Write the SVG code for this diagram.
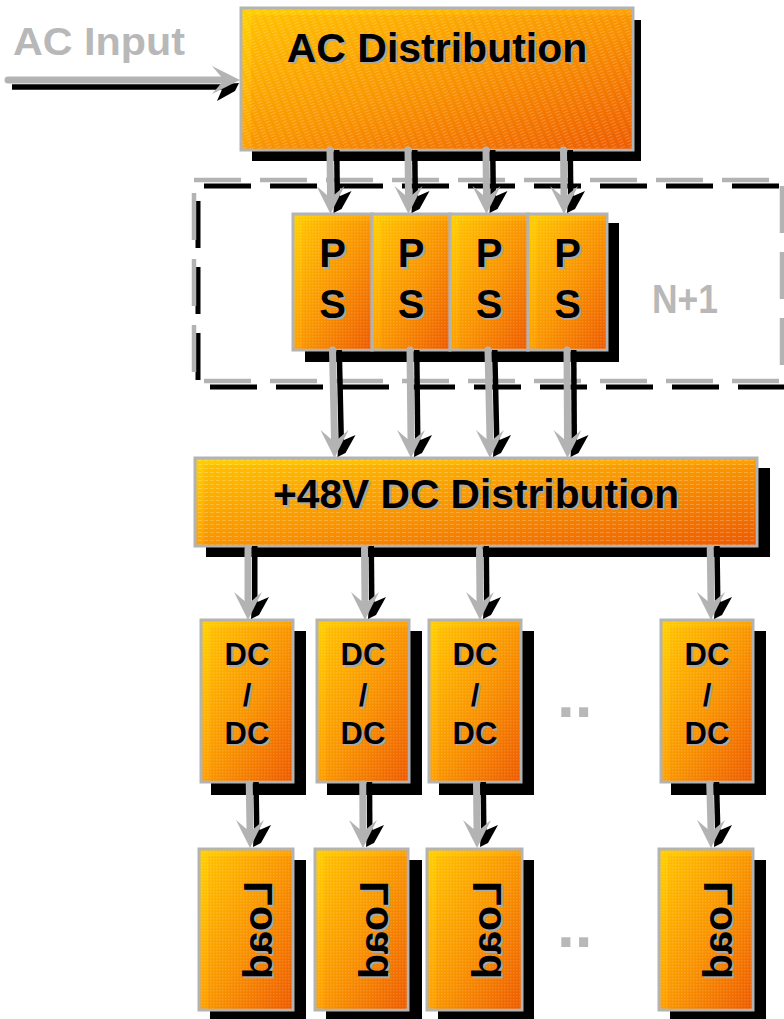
<svg xmlns="http://www.w3.org/2000/svg" xmlns:xlink="http://www.w3.org/1999/xlink" width="784" height="1019" viewBox="0 0 784 1019">
<defs>
<linearGradient id="gA" x1="0" y1="0" x2="1" y2="1">
<stop offset="0" stop-color="#FFD000"/>
<stop offset="0.5" stop-color="#FFA000"/>
<stop offset="1" stop-color="#FF6600"/>
</linearGradient>
<linearGradient id="gB" x1="0" y1="0" x2="1" y2="1">
<stop offset="0" stop-color="#FFC000"/>
<stop offset="0.5" stop-color="#F99400"/>
<stop offset="1" stop-color="#EE5C00"/>
</linearGradient>
<pattern id="pDiag" width="8" height="3" patternUnits="userSpaceOnUse" patternTransform="rotate(-22)">
<line x1="0" y1="0.5" x2="5" y2="0.5" stroke="#FFFFFF" stroke-opacity="0.22" stroke-width="1"/>
</pattern>
<pattern id="pHor" width="6" height="4" patternUnits="userSpaceOnUse">
<line x1="0" y1="0.5" x2="4" y2="0.5" stroke="#FFFFFF" stroke-opacity="0.22" stroke-width="1"/>
</pattern>
<pattern id="pDot" width="3" height="3" patternUnits="userSpaceOnUse">
<rect x="0" y="0" width="1.5" height="1.5" fill="#FFFFFF" fill-opacity="0.14"/>
</pattern>
<polygon id="headG" points="-14,-28 -3.5,-19 3.5,-19 14,-28 0,0" fill="#B3B3B3"/>
<polygon id="headB" points="4,-18 3,-1 11,-5 21,-23 9.5,-18" fill="#000000"/>
<style>
.shadow{fill:#000000}
.box{fill:url(#gA);stroke:#B3B3B3;stroke-width:3}
.inner{fill:url(#gB)}
.t{font-family:"Liberation Sans",Arial,Helvetica,sans-serif;font-weight:bold}
.ts{fill:#A8A8A8}
.tb{fill:#000000}
.gs{stroke:#B3B3B3;stroke-width:7;stroke-linecap:round;fill:none}
.bs{stroke:#000000;stroke-width:5.5;fill:none}
.lbl{fill:#B8B8B8}
</style>
</defs>
<rect width="784" height="1019" fill="#FFFFFF"/>

<g id="redundancy-frame" fill="none">
<rect x="198" y="186" width="592" height="201" stroke="#000000" stroke-width="5" stroke-dasharray="47 19" stroke-dashoffset="-6"/>
<rect x="194" y="180" width="588" height="201" stroke="#B3B3B3" stroke-width="4.5" stroke-dasharray="47 19"/>
</g>

<g id="ac-input-label">
<text class="t lbl" x="13" y="55" font-size="39" textLength="172" lengthAdjust="spacingAndGlyphs">AC Input</text>
</g>

<g id="ac-distribution">
<rect class="shadow" x="252" y="20" width="389" height="141"/>
<rect class="box" x="241" y="8" width="392" height="142"/>
<rect class="inner" x="251" y="15" width="380.5" height="133.5"/>
<rect fill="url(#pDiag)" x="242.5" y="9.5" width="389" height="139"/>
<text class="t ts" x="439" y="64" font-size="41" text-anchor="middle">AC Distribution</text>
<text class="t tb" x="437" y="62" font-size="41" text-anchor="middle">AC Distribution</text>
</g>

<g id="ps-shadow">
<rect class="shadow" x="305" y="223" width="314" height="139"/>
</g>
<g id="ps1">
<rect class="box" x="293" y="214" width="79" height="136"/>
<rect class="inner" x="302" y="221" width="68.5" height="127.5"/>
<rect fill="url(#pDot)" x="294.5" y="215.5" width="76" height="133"/>
<text class="t ts" x="334.5" y="269" font-size="40" text-anchor="middle">P</text>
<text class="t tb" x="332.5" y="267" font-size="40" text-anchor="middle">P</text>
<text class="t ts" x="334.5" y="320" font-size="40" text-anchor="middle">S</text>
<text class="t tb" x="332.5" y="318" font-size="40" text-anchor="middle">S</text>
</g>
<g id="ps2">
<rect class="box" x="372" y="214" width="78" height="136"/>
<rect class="inner" x="381" y="221" width="67.5" height="127.5"/>
<rect fill="url(#pDot)" x="373.5" y="215.5" width="75" height="133"/>
<text class="t ts" x="413" y="269" font-size="40" text-anchor="middle">P</text>
<text class="t tb" x="411" y="267" font-size="40" text-anchor="middle">P</text>
<text class="t ts" x="413" y="320" font-size="40" text-anchor="middle">S</text>
<text class="t tb" x="411" y="318" font-size="40" text-anchor="middle">S</text>
</g>
<g id="ps3">
<rect class="box" x="450" y="214" width="78" height="136"/>
<rect class="inner" x="459" y="221" width="67.5" height="127.5"/>
<rect fill="url(#pDot)" x="451.5" y="215.5" width="75" height="133"/>
<text class="t ts" x="491" y="269" font-size="40" text-anchor="middle">P</text>
<text class="t tb" x="489" y="267" font-size="40" text-anchor="middle">P</text>
<text class="t ts" x="491" y="320" font-size="40" text-anchor="middle">S</text>
<text class="t tb" x="489" y="318" font-size="40" text-anchor="middle">S</text>
</g>
<g id="ps4">
<rect class="box" x="528" y="214" width="79" height="136"/>
<rect class="inner" x="537" y="221" width="68.5" height="127.5"/>
<rect fill="url(#pDot)" x="529.5" y="215.5" width="76" height="133"/>
<text class="t ts" x="569.5" y="269" font-size="40" text-anchor="middle">P</text>
<text class="t tb" x="567.5" y="267" font-size="40" text-anchor="middle">P</text>
<text class="t ts" x="569.5" y="320" font-size="40" text-anchor="middle">S</text>
<text class="t tb" x="567.5" y="318" font-size="40" text-anchor="middle">S</text>
</g>

<g id="n-plus-1-label">
<text class="t lbl" x="652" y="313" font-size="41" textLength="66" lengthAdjust="spacingAndGlyphs">N+1</text>
</g>

<g id="dc-distribution">
<rect class="shadow" x="206" y="468" width="564" height="89"/>
<rect class="box" x="195" y="458" width="562" height="88"/>
<rect class="inner" x="204" y="465" width="551.5" height="79.5"/>
<rect fill="url(#pHor)" x="196.5" y="459.5" width="559" height="85"/>
<text class="t ts" x="478" y="510" font-size="40" text-anchor="middle" textLength="406" lengthAdjust="spacingAndGlyphs">+48V DC Distribution</text>
<text class="t tb" x="476" y="508" font-size="40" text-anchor="middle" textLength="406" lengthAdjust="spacingAndGlyphs">+48V DC Distribution</text>
</g>

<g id="dcdc1">
<rect class="shadow" x="211" y="631" width="95" height="164"/>
<rect class="box" x="201" y="620" width="92" height="162"/>
<rect class="inner" x="210" y="627" width="81.5" height="153.5"/>
<rect fill="url(#pDot)" x="202.5" y="621.5" width="89" height="159"/>
<text class="t ts" x="249" y="667" font-size="31" text-anchor="middle">DC</text>
<text class="t tb" x="247" y="665" font-size="31" text-anchor="middle">DC</text>
<text class="t ts" x="249" y="708" font-size="31" text-anchor="middle">/</text>
<text class="t tb" x="247" y="706" font-size="31" text-anchor="middle">/</text>
<text class="t ts" x="249" y="746" font-size="31" text-anchor="middle">DC</text>
<text class="t tb" x="247" y="744" font-size="31" text-anchor="middle">DC</text>
</g>
<g id="dcdc2">
<rect class="shadow" x="327" y="631" width="95" height="164"/>
<rect class="box" x="317" y="620" width="92" height="162"/>
<rect class="inner" x="326" y="627" width="81.5" height="153.5"/>
<rect fill="url(#pDot)" x="318.5" y="621.5" width="89" height="159"/>
<text class="t ts" x="365" y="667" font-size="31" text-anchor="middle">DC</text>
<text class="t tb" x="363" y="665" font-size="31" text-anchor="middle">DC</text>
<text class="t ts" x="365" y="708" font-size="31" text-anchor="middle">/</text>
<text class="t tb" x="363" y="706" font-size="31" text-anchor="middle">/</text>
<text class="t ts" x="365" y="746" font-size="31" text-anchor="middle">DC</text>
<text class="t tb" x="363" y="744" font-size="31" text-anchor="middle">DC</text>
</g>
<g id="dcdc3">
<rect class="shadow" x="439" y="631" width="95" height="164"/>
<rect class="box" x="429" y="620" width="92" height="162"/>
<rect class="inner" x="438" y="627" width="81.5" height="153.5"/>
<rect fill="url(#pDot)" x="430.5" y="621.5" width="89" height="159"/>
<text class="t ts" x="477" y="667" font-size="31" text-anchor="middle">DC</text>
<text class="t tb" x="475" y="665" font-size="31" text-anchor="middle">DC</text>
<text class="t ts" x="477" y="708" font-size="31" text-anchor="middle">/</text>
<text class="t tb" x="475" y="706" font-size="31" text-anchor="middle">/</text>
<text class="t ts" x="477" y="746" font-size="31" text-anchor="middle">DC</text>
<text class="t tb" x="475" y="744" font-size="31" text-anchor="middle">DC</text>
</g>
<g id="dcdc4">
<rect class="shadow" x="671" y="631" width="95" height="164"/>
<rect class="box" x="661" y="620" width="92" height="162"/>
<rect class="inner" x="670" y="627" width="81.5" height="153.5"/>
<rect fill="url(#pDot)" x="662.5" y="621.5" width="89" height="159"/>
<text class="t ts" x="709" y="667" font-size="31" text-anchor="middle">DC</text>
<text class="t tb" x="707" y="665" font-size="31" text-anchor="middle">DC</text>
<text class="t ts" x="709" y="708" font-size="31" text-anchor="middle">/</text>
<text class="t tb" x="707" y="706" font-size="31" text-anchor="middle">/</text>
<text class="t ts" x="709" y="746" font-size="31" text-anchor="middle">DC</text>
<text class="t tb" x="707" y="744" font-size="31" text-anchor="middle">DC</text>
</g>

<g id="load1">
<rect class="shadow" x="210" y="860" width="96" height="164"/>
<rect class="box" x="199" y="849" width="94" height="161"/>
<rect class="inner" x="208" y="856" width="83.5" height="152.5"/>
<rect fill="url(#pDot)" x="200.5" y="850.5" width="91" height="158"/>
<text class="t ts" transform="matrix(0 1 1 0 274 932)" font-size="41" text-anchor="middle">Load</text>
<text class="t tb" transform="matrix(0 1 1 0 272 930)" font-size="41" text-anchor="middle">Load</text>
</g>
<g id="load2">
<rect class="shadow" x="326" y="860" width="96" height="164"/>
<rect class="box" x="315" y="849" width="93" height="161"/>
<rect class="inner" x="324" y="856" width="82.5" height="152.5"/>
<rect fill="url(#pDot)" x="316.5" y="850.5" width="90" height="158"/>
<text class="t ts" transform="matrix(0 1 1 0 389.5 932)" font-size="41" text-anchor="middle">Load</text>
<text class="t tb" transform="matrix(0 1 1 0 387.5 930)" font-size="41" text-anchor="middle">Load</text>
</g>
<g id="load3">
<rect class="shadow" x="438" y="860" width="96" height="164"/>
<rect class="box" x="427" y="849" width="95" height="161"/>
<rect class="inner" x="436" y="856" width="84.5" height="152.5"/>
<rect fill="url(#pDot)" x="428.5" y="850.5" width="92" height="158"/>
<text class="t ts" transform="matrix(0 1 1 0 502.5 932)" font-size="41" text-anchor="middle">Load</text>
<text class="t tb" transform="matrix(0 1 1 0 500.5 930)" font-size="41" text-anchor="middle">Load</text>
</g>
<g id="load4">
<rect class="shadow" x="670" y="860" width="96" height="164"/>
<rect class="box" x="659" y="849" width="94" height="161"/>
<rect class="inner" x="668" y="856" width="83.5" height="152.5"/>
<rect fill="url(#pDot)" x="660.5" y="850.5" width="91" height="158"/>
<text class="t ts" transform="matrix(0 1 1 0 734 932)" font-size="41" text-anchor="middle">Load</text>
<text class="t tb" transform="matrix(0 1 1 0 732 930)" font-size="41" text-anchor="middle">Load</text>
</g>

<g id="ellipsis-dcdc">
<text class="t lbl" x="557" y="717" font-size="64">..</text>
</g>
<g id="ellipsis-load">
<text class="t lbl" x="557" y="947" font-size="64">..</text>
</g>

<g id="connectors">
<line class="bs" x1="12" y1="87" x2="223" y2="87"/>
<use xlink:href="#headB" href="#headB" transform="matrix(0 1 1 0 240 80)"/>

<line class="bs" x1="336.75" y1="150" x2="337.25" y2="196"/>
<line class="bs" x1="414.75" y1="150" x2="415.25" y2="196"/>
<line class="bs" x1="492.75" y1="150" x2="493.25" y2="196"/>
<line class="bs" x1="570.25" y1="150" x2="570.75" y2="196"/>
<use xlink:href="#headB" href="#headB" transform="translate(330.5 214)"/>
<use xlink:href="#headB" href="#headB" transform="translate(408.5 214)"/>
<use xlink:href="#headB" href="#headB" transform="translate(486.5 214)"/>
<use xlink:href="#headB" href="#headB" transform="translate(564 214)"/>

<line class="bs" x1="339.25" y1="350" x2="341.25" y2="440"/>
<line class="bs" x1="416.75" y1="350" x2="417.75" y2="440"/>
<line class="bs" x1="494.75" y1="350" x2="496.75" y2="440"/>
<line class="bs" x1="573.75" y1="350" x2="574.25" y2="440"/>
<use xlink:href="#headB" href="#headB" transform="translate(334.5 458)"/>
<use xlink:href="#headB" href="#headB" transform="translate(411 458)"/>
<use xlink:href="#headB" href="#headB" transform="translate(490 458)"/>
<use xlink:href="#headB" href="#headB" transform="translate(567.5 458)"/>

<line class="bs" x1="254.75" y1="546" x2="254.75" y2="602"/>
<line class="bs" x1="371.25" y1="546" x2="371.75" y2="602"/>
<line class="bs" x1="486.25" y1="546" x2="486.75" y2="602"/>
<line class="bs" x1="717" y1="546" x2="717.75" y2="602"/>
<use xlink:href="#headB" href="#headB" transform="translate(248 620)"/>
<use xlink:href="#headB" href="#headB" transform="translate(365 620)"/>
<use xlink:href="#headB" href="#headB" transform="translate(480 620)"/>
<use xlink:href="#headB" href="#headB" transform="translate(711 620)"/>

<line class="bs" x1="256" y1="782" x2="256.75" y2="830"/>
<line class="bs" x1="369.5" y1="782" x2="369.75" y2="830"/>
<line class="bs" x1="483.25" y1="782" x2="483.75" y2="830"/>
<line class="bs" x1="716.5" y1="782" x2="717.75" y2="830"/>
<use xlink:href="#headB" href="#headB" transform="translate(250 848)"/>
<use xlink:href="#headB" href="#headB" transform="translate(363 848)"/>
<use xlink:href="#headB" href="#headB" transform="translate(477 848)"/>
<use xlink:href="#headB" href="#headB" transform="translate(711 848)"/>

<line class="gs" x1="8" y1="80" x2="221" y2="80" stroke-width="5"/>
<use xlink:href="#headG" href="#headG" transform="matrix(0 1 1 0 240 80)"/>

<line class="gs" x1="330" y1="150" x2="330.5" y2="195"/>
<line class="gs" x1="408" y1="150" x2="408.5" y2="195"/>
<line class="gs" x1="486" y1="150" x2="486.5" y2="195"/>
<line class="gs" x1="563.5" y1="150" x2="564" y2="195"/>
<use xlink:href="#headG" href="#headG" transform="translate(330.5 214)"/>
<use xlink:href="#headG" href="#headG" transform="translate(408.5 214)"/>
<use xlink:href="#headG" href="#headG" transform="translate(486.5 214)"/>
<use xlink:href="#headG" href="#headG" transform="translate(564 214)"/>

<line class="gs" x1="332.5" y1="350" x2="334.5" y2="439"/>
<line class="gs" x1="410" y1="350" x2="411" y2="439"/>
<line class="gs" x1="488" y1="350" x2="490" y2="439"/>
<line class="gs" x1="567" y1="350" x2="567.5" y2="439"/>
<use xlink:href="#headG" href="#headG" transform="translate(334.5 458)"/>
<use xlink:href="#headG" href="#headG" transform="translate(411 458)"/>
<use xlink:href="#headG" href="#headG" transform="translate(490 458)"/>
<use xlink:href="#headG" href="#headG" transform="translate(567.5 458)"/>

<line class="gs" x1="248" y1="549" x2="248" y2="601"/>
<line class="gs" x1="364.5" y1="549" x2="365" y2="601"/>
<line class="gs" x1="479.5" y1="550" x2="480" y2="601"/>
<line class="gs" x1="710.25" y1="549" x2="711" y2="601"/>
<use xlink:href="#headG" href="#headG" transform="translate(248 620)"/>
<use xlink:href="#headG" href="#headG" transform="translate(365 620)"/>
<use xlink:href="#headG" href="#headG" transform="translate(480 620)"/>
<use xlink:href="#headG" href="#headG" transform="translate(711 620)"/>

<line class="gs" x1="249.25" y1="784" x2="250" y2="829"/>
<line class="gs" x1="362.75" y1="784" x2="363" y2="829"/>
<line class="gs" x1="476.5" y1="784" x2="477" y2="829"/>
<line class="gs" x1="709.75" y1="784" x2="711" y2="829"/>
<use xlink:href="#headG" href="#headG" transform="translate(250 848)"/>
<use xlink:href="#headG" href="#headG" transform="translate(363 848)"/>
<use xlink:href="#headG" href="#headG" transform="translate(477 848)"/>
<use xlink:href="#headG" href="#headG" transform="translate(711 848)"/>
</g>
</svg>
